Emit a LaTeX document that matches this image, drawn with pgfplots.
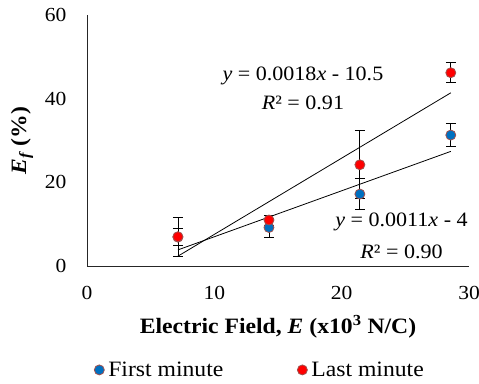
\documentclass[border=0pt]{standalone}
\usepackage{fontspec}
\setmainfont[FakeStretch=1.08]{Liberation Serif}
\usepackage{pgfplots}
\pgfplotsset{compat=1.18}
\definecolor{fmblue}{HTML}{0070C0}
\definecolor{lmred}{HTML}{FF0000}
\definecolor{edgec}{HTML}{A0504D}
\begin{document}
\begin{tikzpicture}[x=1bp,y=1bp]
\useasboundingbox (-87,-117) rectangle (392,266);
\begin{axis}[
  at={(0,0)}, anchor=south west,
  scale only axis, width=382bp, height=251bp,
  xmin=0, xmax=30, ymin=0, ymax=60,
  xtick={0,10,20,30}, ytick={0,20,40,60},
  axis lines=left, axis line style={-, black!85, line width=0.9pt},
  major tick length=0pt,
  /pgf/number format/assume math mode=true,
  tick label style={font=\fontsize{20}{24}\selectfont},
  xticklabel style={yshift=-17bp},
  yticklabel style={xshift=-17bp},
  xlabel={\textbf{Electric Field, \textit{E} (x10\textsuperscript{3} N/C)}},
  xlabel style={at={(axis description cs:0.5,-0.267)}, anchor=base, font=\fontsize{22}{26}\selectfont},
  ylabel={\textbf{\textit{E\textsubscript{f}} (\%)}},
  ylabel style={at={(axis description cs:-0.17,0.5)}, anchor=center, font=\fontsize{22}{26}\selectfont},
  clip=false,
  legend style={draw=none, fill=none, at={(axis description cs:0.453,-0.414)}, anchor=center,
    legend columns=2, font=\fontsize{22}{26}\selectfont,
    /tikz/every odd column/.append style={column sep=2bp},
    /tikz/every even column/.append style={column sep=72bp}},
  legend cell align=left,
]
\addplot[black, line width=0.8pt, forget plot] coordinates {(7.14,2.35) (28.57,41.4)};
\addplot[black, line width=0.8pt, forget plot] coordinates {(7.14,3.85) (28.57,27.4)};
\addplot[only marks, mark=*, mark size=5bp, mark options={fill=fmblue, draw=edgec, line width=0.8pt},
  error bars/.cd, y dir=both, y explicit,
  error bar style={black, line width=0.8pt},
  error mark options={rotate=90, mark size=5bp, black, line width=0.8pt}]
  coordinates {
  (7.14,6.9) +- (0,2.0)
  (14.29,9.2) +- (0,2.3)
  (21.43,17.2) +- (0,3.7)
  (28.57,31.3) +- (0,2.7)
  };
\addlegendentry{First minute}
\addplot[only marks, mark=*, mark size=5bp, mark options={fill=lmred, draw=edgec, line width=0.8pt},
  error bars/.cd, y dir=both, y explicit,
  error bar style={black, line width=0.8pt},
  error mark options={rotate=90, mark size=5bp, black, line width=0.8pt}]
  coordinates {
  (7.14,7.0) +- (0,4.6)
  (14.29,11.0) +- (0,1.2)
  (21.43,24.2) +- (0,8.1)
  (28.57,46.2) +- (0,2.4)
  };
\addlegendentry{Last minute}
\node[font=\fontsize{20.5}{24}\selectfont] at (axis cs:16.96,45.4) {\textit{y} = 0.0018\textit{x} - 10.5};
\node[font=\fontsize{20.5}{24}\selectfont] at (axis cs:16.96,39.0) {\textit{R}² = 0.91};
\node[font=\fontsize{20.5}{24}\selectfont] at (axis cs:24.7,10.5) {\textit{y} = 0.0011\textit{x} - 4};
\node[font=\fontsize{20.5}{24}\selectfont] at (axis cs:24.7,3.35) {\textit{R}² = 0.90};
\end{axis}
\end{tikzpicture}
\end{document}
